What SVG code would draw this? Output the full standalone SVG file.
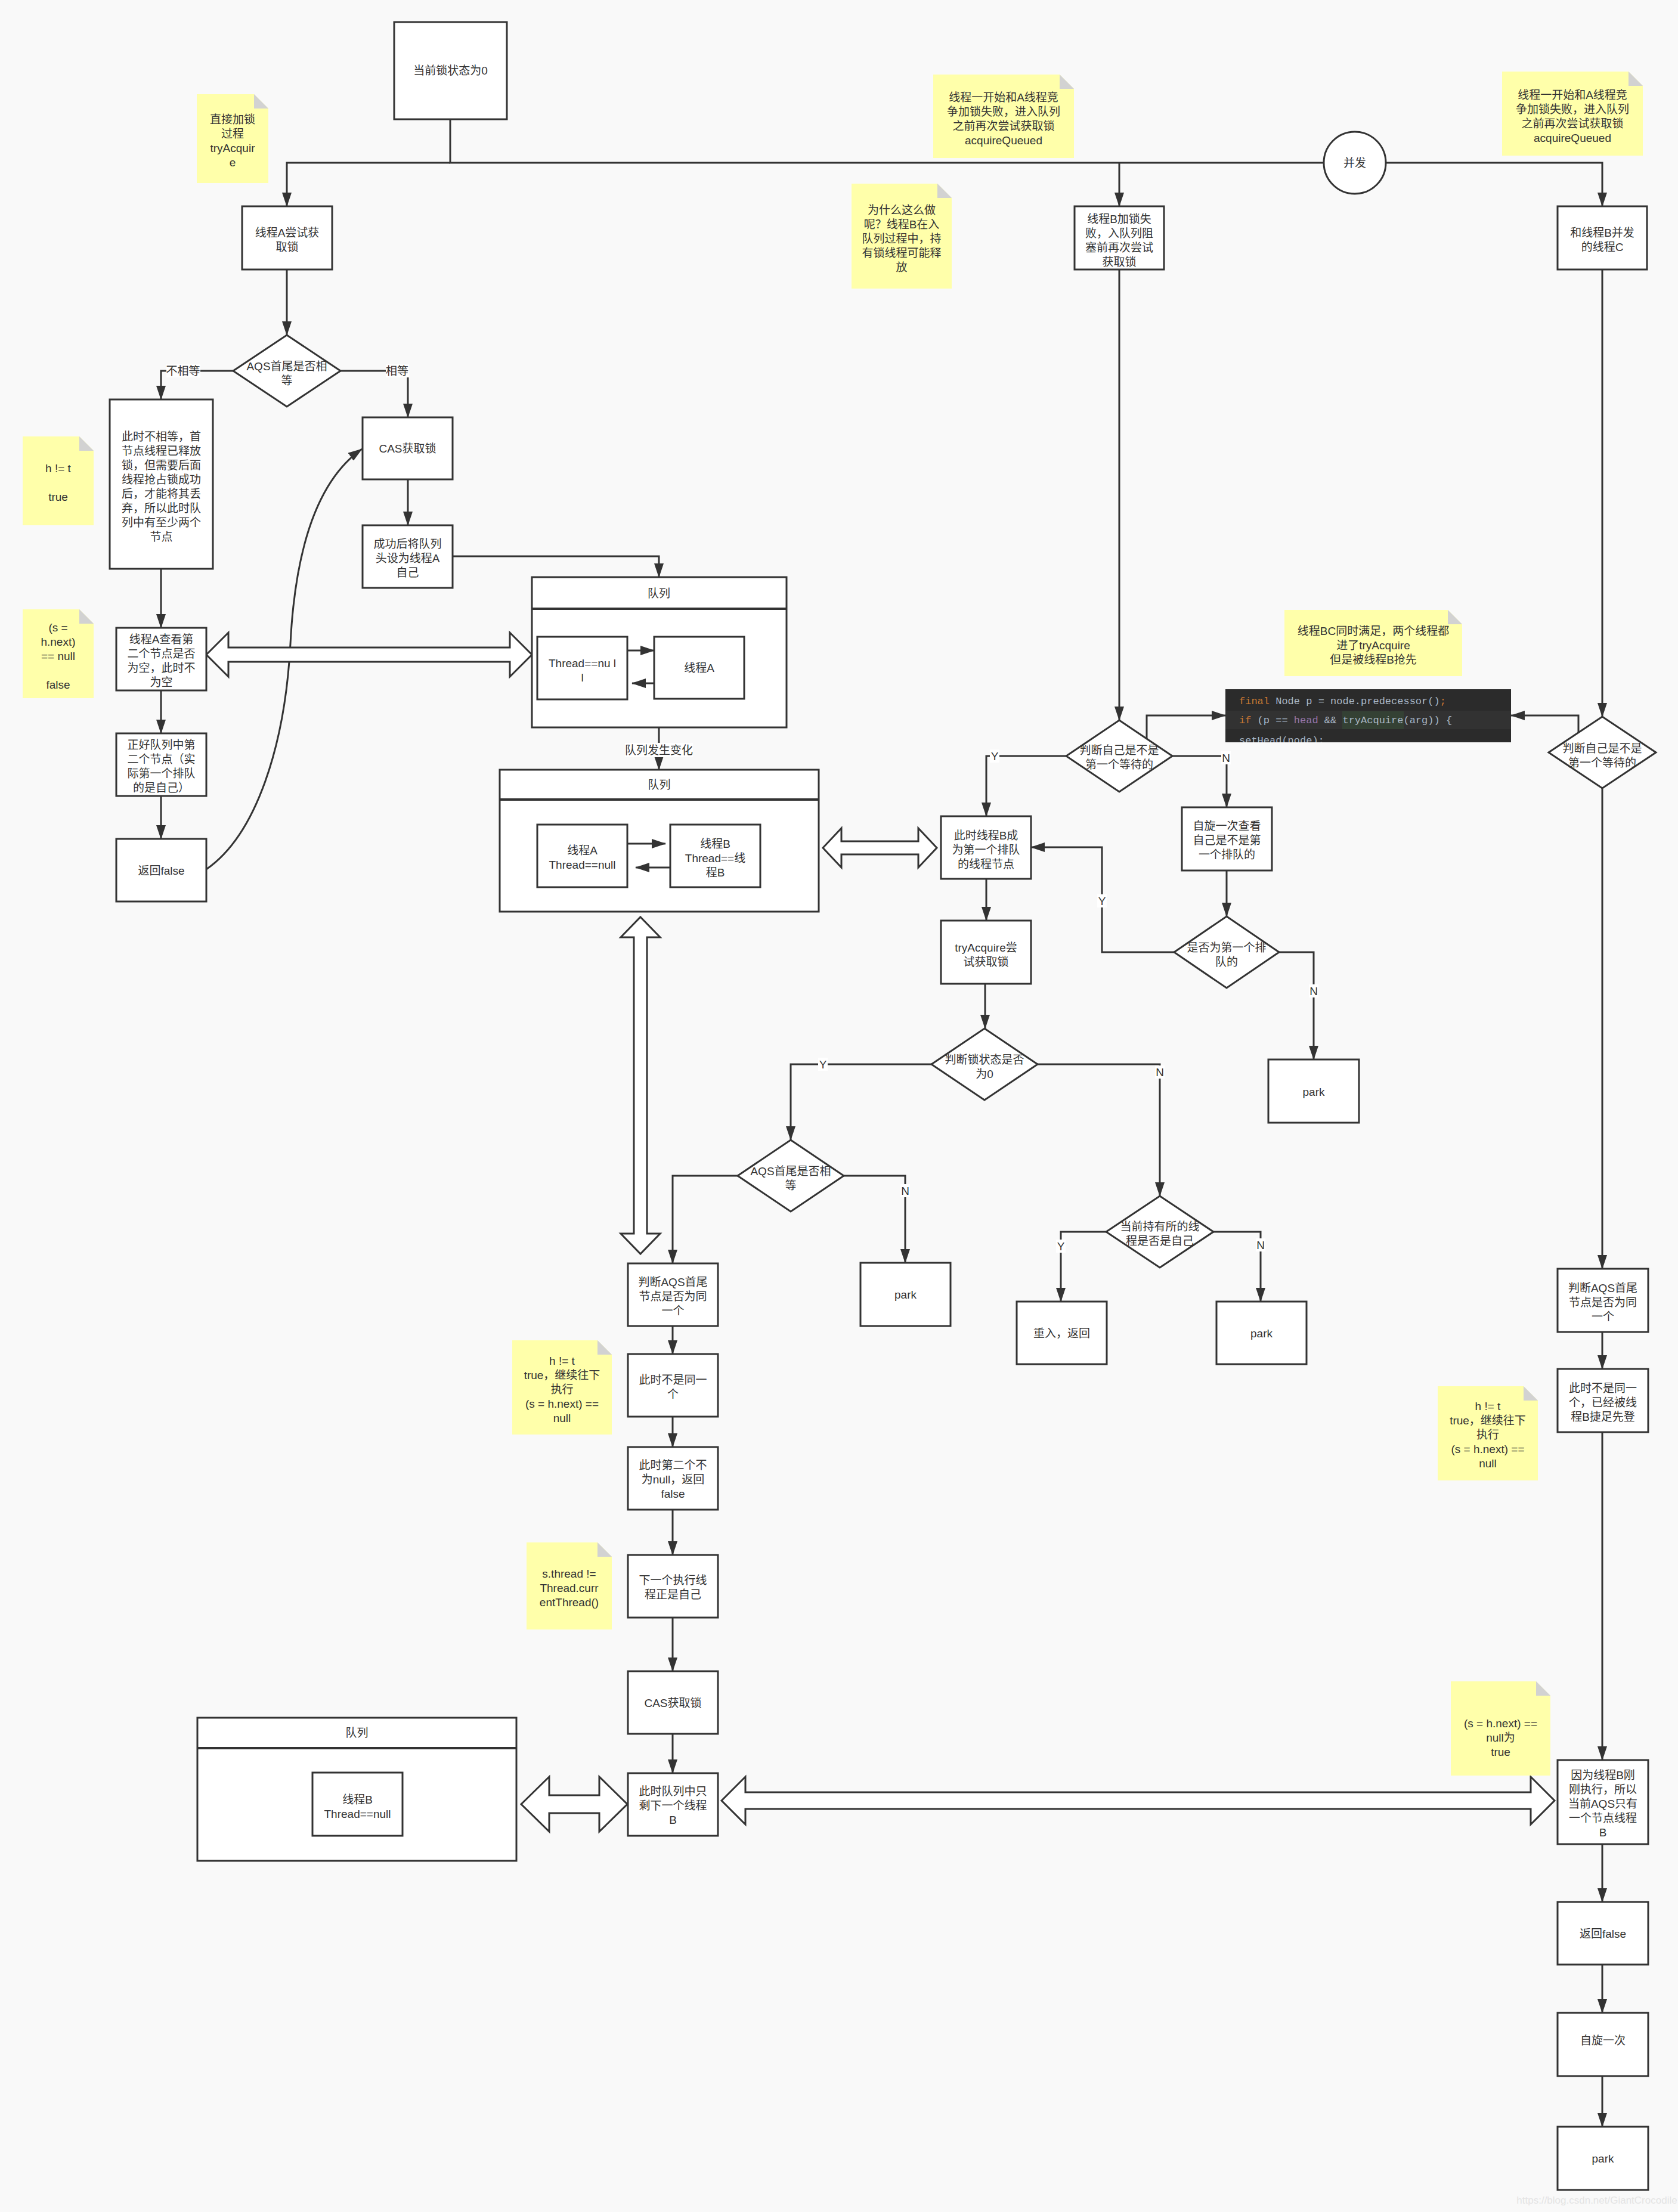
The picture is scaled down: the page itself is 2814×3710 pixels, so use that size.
<svg xmlns="http://www.w3.org/2000/svg" width="2814" height="3710" viewBox="0 0 2814 3710">
<style>
.n{fill:#fff;stroke:#333;stroke-width:3}
.t{font-family:"Liberation Sans","Noto Sans CJK SC",sans-serif;font-size:19px;fill:#333;text-anchor:middle;dominant-baseline:central}
.c{fill:none;stroke:#333;stroke-width:3}
.a{fill:none;stroke:#333;stroke-width:3;marker-end:url(#ah)}
.note{fill:#ffffaa}
.fold{fill:#d2d2d2}
.lb{fill:#fff}
.da{fill:#fff;stroke:#333;stroke-width:3;stroke-linejoin:miter}
.code{font-family:"Liberation Mono",monospace;font-size:17px;dominant-baseline:central}
</style>
<defs>
<marker id="ah" markerWidth="24" markerHeight="16" refX="23" refY="8" orient="auto" markerUnits="userSpaceOnUse"><path d="M0,0 L24,8 L0,16 Z" fill="#333"/></marker>
<clipPath id="codeclip"><rect x="2055" y="1156" width="479" height="89"/></clipPath>
</defs>
<rect x="0" y="0" width="2814" height="3710" fill="#f9f9f9"/>

<g id="connectors">
<path class="c" d="M755,200 V273 H2220"/>
<path class="a" d="M755,273 H481 V346"/>
<path class="a" d="M1877,273 V346"/>
<path class="a" d="M2324,273 H2687 V346"/>
<path class="a" d="M481,452 V562"/>
<path class="a" d="M391,622 H270 V670"/>
<path class="a" d="M571,622 H684 V700"/>
<path class="a" d="M270,954 V1053"/>
<path class="a" d="M270,1158 V1230"/>
<path class="a" d="M270,1335 V1407"/>
<path class="a" d="M346,1458 C430,1400 478,1250 487,1080 C496,900 540,800 607,753"/>
<path class="a" d="M684,804 V881"/>
<path class="a" d="M759,933 H1105 V968"/>
<path class="a" d="M1105,1220 V1291"/>
<path class="a" d="M1877,452 V1208"/>
<path class="a" d="M1923,1239 V1200 H2055"/>
<path class="a" d="M2647,1229 V1200 H2534"/>
<path class="a" d="M2687,452 V1202"/>
<path class="a" d="M1788,1268 H1654 V1369"/>
<path class="a" d="M1966,1268 H2057 V1354"/>
<path class="a" d="M1654,1474 V1544"/>
<path class="a" d="M2057,1460 V1537"/>
<path class="a" d="M1969,1597 H1848 V1421 H1729"/>
<path class="a" d="M2145,1597 H2203 V1777"/>
<path class="a" d="M1652,1650 V1725"/>
<path class="a" d="M1562,1785 H1326 V1912"/>
<path class="a" d="M1740,1785 H1945 V2006"/>
<path class="a" d="M1237,1972 H1128 V2119"/>
<path class="a" d="M1415,1972 H1518 V2118"/>
<path class="a" d="M1855,2066 H1779 V2183"/>
<path class="a" d="M2035,2066 H2114 V2183"/>
<path class="a" d="M1128,2224 V2271"/>
<path class="a" d="M1128,2376 V2427"/>
<path class="a" d="M1128,2532 V2608"/>
<path class="a" d="M1128,2713 V2803"/>
<path class="a" d="M1128,2908 V2974"/>
<path class="a" d="M2687,1322 V2128"/>
<path class="a" d="M2687,2234 V2296"/>
<path class="a" d="M2687,2402 V2952"/>
<path class="a" d="M2687,3093 V3190"/>
<path class="a" d="M2687,3295 V3376"/>
<path class="a" d="M2687,3482 V3567"/>
<polygon class="da" points="346,1098 383,1061 383,1086 855,1086 855,1061 892,1098 855,1135 855,1110 383,1110 383,1135"/>
<polygon class="da" points="1380,1422 1411,1389 1411,1411 1540,1411 1540,1389 1571,1422 1540,1455 1540,1433 1411,1433 1411,1455"/>
<polygon class="da" points="1074,1538 1107,1572 1085,1572 1085,2069 1107,2069 1074,2103 1041,2069 1063,2069 1063,1572 1041,1572"/>
<polygon class="da" points="874,3026 921,2980 921,3011 1005,3011 1005,2980 1052,3026 1005,3072 1005,3041 921,3041 921,3072"/>
<polygon class="da" points="1210,3020 1250,2980 1250,3006 2567,3006 2567,2980 2607,3020 2567,3060 2567,3034 1250,3034 1250,3060"/>
<g id="edge-labels">
<rect class="lb" x="279" y="611" width="57" height="22"/><text class="t" x="307" y="622">不相等</text>
<rect class="lb" x="647" y="611" width="39" height="22"/><text class="t" x="666" y="622">相等</text>
<rect class="lb" x="1048" y="1246" width="114" height="24"/><text class="t" x="1105" y="1258">队列发生变化</text>
<rect class="lb" x="1660" y="1257" width="16" height="22"/><text class="t" x="1668" y="1268">Y</text>
<rect class="lb" x="2048" y="1260" width="16" height="22"/><text class="t" x="2056" y="1271">N</text>
<rect class="lb" x="1840" y="1500" width="16" height="22"/><text class="t" x="1848" y="1511">Y</text>
<rect class="lb" x="2195" y="1651" width="16" height="22"/><text class="t" x="2203" y="1662">N</text>
<rect class="lb" x="1372" y="1774" width="16" height="22"/><text class="t" x="1380" y="1785">Y</text>
<rect class="lb" x="1937" y="1787" width="16" height="22"/><text class="t" x="1945" y="1798">N</text>
<rect class="lb" x="1510" y="1986" width="16" height="22"/><text class="t" x="1518" y="1997">N</text>
<rect class="lb" x="1771" y="2079" width="16" height="22"/><text class="t" x="1779" y="2090">Y</text>
<rect class="lb" x="2106" y="2077" width="16" height="22"/><text class="t" x="2114" y="2088">N</text>
</g>
</g>

<g id="start"><rect class="n" x="661" y="37" width="189" height="163"/><text class="t" x="755.5" y="118">当前锁状态为0</text></g>
<g id="concurrent"><circle class="n" cx="2272" cy="273" r="52"/><text class="t" x="2272" y="273">并发</text></g>

<g id="note-direct"><path class="note" d="M330,158 H426 L450,182 V307 H330 Z"/><path class="fold" d="M426,158 V182 H450 Z"/>
<text class="t"><tspan x="390" y="200">直接加锁</tspan><tspan x="390" y="224">过程</tspan><tspan x="390" y="248">tryAcquir</tspan><tspan x="390" y="272">e</tspan></text></g>
<g id="note-ht1"><path class="note" d="M38,732 H133 L157,756 V881 H38 Z"/><path class="fold" d="M133,732 V756 H157 Z"/>
<text class="t"><tspan x="97.5" y="785">h != t</tspan><tspan x="97.5" y="833">true</tspan></text></g>
<g id="note-snext1"><path class="note" d="M38,1022 H133 L157,1046 V1171 H38 Z"/><path class="fold" d="M133,1022 V1046 H157 Z"/>
<text class="t"><tspan x="97.5" y="1052">(s =</tspan><tspan x="97.5" y="1076">h.next)</tspan><tspan x="97.5" y="1100">== null</tspan><tspan x="97.5" y="1148">false</tspan></text></g>
<g id="note-b"><path class="note" d="M1565,125 H1777 L1801,149 V265 H1565 Z"/><path class="fold" d="M1777,125 V149 H1801 Z"/>
<text class="t"><tspan x="1683" y="163">线程一开始和A线程竞</tspan><tspan x="1683" y="187">争加锁失败，进入队列</tspan><tspan x="1683" y="211">之前再次尝试获取锁</tspan><tspan x="1683" y="235">acquireQueued</tspan></text></g>
<g id="note-c"><path class="note" d="M2519,120 H2731 L2755,144 V261 H2519 Z"/><path class="fold" d="M2731,120 V144 H2755 Z"/>
<text class="t"><tspan x="2637" y="159">线程一开始和A线程竞</tspan><tspan x="2637" y="183">争加锁失败，进入队列</tspan><tspan x="2637" y="207">之前再次尝试获取锁</tspan><tspan x="2637" y="231">acquireQueued</tspan></text></g>
<g id="note-why"><path class="note" d="M1428,308 H1572 L1596,332 V484 H1428 Z"/><path class="fold" d="M1572,308 V332 H1596 Z"/>
<text class="t"><tspan x="1512" y="352">为什么这么做</tspan><tspan x="1512" y="376">呢？线程B在入</tspan><tspan x="1512" y="400">队列过程中，持</tspan><tspan x="1512" y="424">有锁线程可能释</tspan><tspan x="1512" y="448">放</tspan></text></g>
<g id="note-bc"><path class="note" d="M2154,1023 H2428 L2452,1047 V1134 H2154 Z"/><path class="fold" d="M2428,1023 V1047 H2452 Z"/>
<text class="t"><tspan x="2303" y="1058">线程BC同时满足，两个线程都</tspan><tspan x="2303" y="1082">进了tryAcquire</tspan><tspan x="2303" y="1106">但是被线程B抢先</tspan></text></g>
<g id="note-ht2"><path class="note" d="M859,2248 H1002 L1026,2272 V2406 H859 Z"/><path class="fold" d="M1002,2248 V2272 H1026 Z"/>
<text class="t"><tspan x="942.5" y="2282">h != t</tspan><tspan x="942.5" y="2306">true，继续往下</tspan><tspan x="942.5" y="2330">执行</tspan><tspan x="942.5" y="2354">(s = h.next) ==</tspan><tspan x="942.5" y="2378">null</tspan></text></g>
<g id="note-sthread"><path class="note" d="M883,2587 H1002 L1026,2611 V2733 H883 Z"/><path class="fold" d="M1002,2587 V2611 H1026 Z"/>
<text class="t"><tspan x="954.5" y="2639">s.thread !=</tspan><tspan x="954.5" y="2663">Thread.curr</tspan><tspan x="954.5" y="2687">entThread()</tspan></text></g>
<g id="note-ht3"><path class="note" d="M2411,2325 H2555 L2579,2349 V2483 H2411 Z"/><path class="fold" d="M2555,2325 V2349 H2579 Z"/>
<text class="t"><tspan x="2495" y="2358">h != t</tspan><tspan x="2495" y="2382">true，继续往下</tspan><tspan x="2495" y="2406">执行</tspan><tspan x="2495" y="2430">(s = h.next) ==</tspan><tspan x="2495" y="2454">null</tspan></text></g>
<g id="note-snext2"><path class="note" d="M2433,2820 H2576 L2600,2844 V2978 H2433 Z"/><path class="fold" d="M2576,2820 V2844 H2600 Z"/>
<text class="t"><tspan x="2516.5" y="2890">(s = h.next) ==</tspan><tspan x="2516.5" y="2914">null为</tspan><tspan x="2516.5" y="2938">true</tspan></text></g>

<g id="threadA"><rect class="n" x="406" y="346" width="151" height="106"/><text class="t"><tspan x="481.5" y="390">线程A尝试获</tspan><tspan x="481.5" y="414">取锁</tspan></text></g>
<g id="dA"><polygon class="n" points="481,562 571,622 481,682 391,622"/><text class="t"><tspan x="481" y="614">AQS首尾是否相</tspan><tspan x="481" y="638">等</tspan></text></g>
<g id="notEqual"><rect class="n" x="184" y="670" width="173" height="284"/><text class="t"><tspan x="270.5" y="732">此时不相等，首</tspan><tspan x="270.5" y="756">节点线程已释放</tspan><tspan x="270.5" y="780">锁，但需要后面</tspan><tspan x="270.5" y="804">线程抢占锁成功</tspan><tspan x="270.5" y="828">后，才能将其丢</tspan><tspan x="270.5" y="852">弃，所以此时队</tspan><tspan x="270.5" y="876">列中有至少两个</tspan><tspan x="270.5" y="900">节点</tspan></text></g>
<g id="checkSecond"><rect class="n" x="195" y="1053" width="151" height="105"/><text class="t"><tspan x="270.5" y="1072">线程A查看第</tspan><tspan x="270.5" y="1096">二个节点是否</tspan><tspan x="270.5" y="1120">为空，此时不</tspan><tspan x="270.5" y="1144">为空</tspan></text></g>
<g id="exactly"><rect class="n" x="195" y="1230" width="151" height="105"/><text class="t"><tspan x="270.5" y="1249">正好队列中第</tspan><tspan x="270.5" y="1273">二个节点（实</tspan><tspan x="270.5" y="1297">际第一个排队</tspan><tspan x="270.5" y="1321">的是自己）</tspan></text></g>
<g id="retFalse1"><rect class="n" x="195" y="1407" width="151" height="105"/><text class="t" x="270.5" y="1460">返回false</text></g>
<g id="cas1"><rect class="n" x="608" y="700" width="151" height="104"/><text class="t" x="683.5" y="752">CAS获取锁</text></g>
<g id="success"><rect class="n" x="608" y="881" width="151" height="105"/><text class="t"><tspan x="683.5" y="912">成功后将队列</tspan><tspan x="683.5" y="936">头设为线程A</tspan><tspan x="683.5" y="960">自己</tspan></text></g>

<g id="queue1"><rect class="n" x="892" y="968" width="427" height="252"/><line x1="892" y1="1021" x2="1319" y2="1021" stroke="#333" stroke-width="4"/><text class="t" x="1105" y="995">队列</text>
<rect class="n" x="901" y="1068" width="151" height="105"/><text class="t"><tspan x="976.5" y="1112">Thread==nu l</tspan><tspan x="976.5" y="1136">l</tspan></text>
<rect class="n" x="1097" y="1068" width="151" height="104"/><text class="t" x="1172.5" y="1120">线程A</text>
<path class="a" d="M1052,1091 H1097"/>
<path class="a" d="M1097,1146 H1060"/></g>

<g id="queue2"><rect class="n" x="838" y="1291" width="535" height="238"/><line x1="838" y1="1341" x2="1373" y2="1341" stroke="#333" stroke-width="4"/><text class="t" x="1105.5" y="1316">队列</text>
<rect class="n" x="901" y="1383" width="151" height="105"/><text class="t"><tspan x="976.5" y="1426">线程A</tspan><tspan x="976.5" y="1450">Thread==null</tspan></text>
<rect class="n" x="1124" y="1383" width="151" height="105"/><text class="t"><tspan x="1199.5" y="1415">线程B</tspan><tspan x="1199.5" y="1439">Thread==线</tspan><tspan x="1199.5" y="1463">程B</tspan></text>
<path class="a" d="M1052,1415 H1116"/>
<path class="a" d="M1124,1455 H1066"/></g>

<g id="threadB"><rect class="n" x="1802" y="346" width="150" height="106"/><text class="t"><tspan x="1877" y="367">线程B加锁失</tspan><tspan x="1877" y="391">败，入队列阻</tspan><tspan x="1877" y="415">塞前再次尝试</tspan><tspan x="1877" y="439">获取锁</tspan></text></g>
<g id="threadC"><rect class="n" x="2612" y="346" width="150" height="106"/><text class="t"><tspan x="2687" y="390">和线程B并发</tspan><tspan x="2687" y="414">的线程C</tspan></text></g>

<g id="code">
<rect x="2055" y="1156" width="479" height="89" fill="#2b2b2b"/>
<rect x="2055" y="1192" width="479" height="31" fill="#323232"/>
<rect x="2251" y="1193" width="103" height="30" fill="#344134"/>
<g clip-path="url(#codeclip)">
<text class="code" x="2078" y="1176"><tspan fill="#cc7832">final</tspan><tspan fill="#a9b7c6"> Node p = node.predecessor()</tspan><tspan fill="#cc7832">;</tspan></text>
<text class="code" x="2078" y="1208"><tspan fill="#cc7832">if</tspan><tspan fill="#a9b7c6"> (p == </tspan><tspan fill="#9876aa">head</tspan><tspan fill="#a9b7c6"> &amp;&amp; tryAcquire(arg)) {</tspan></text>
<text class="code" x="2078" y="1242" fill="#a9b7c6">    setHead(node);</text>
</g>
</g>

<g id="dB1"><polygon class="n" points="1877,1208 1966,1268 1877,1328 1788,1268"/><text class="t"><tspan x="1877" y="1258">判断自己是不是</tspan><tspan x="1877" y="1282">第一个等待的</tspan></text></g>
<g id="dC1"><polygon class="n" points="2687,1202 2777,1262 2687,1322 2597,1262"/><text class="t"><tspan x="2687" y="1255">判断自己是不是</tspan><tspan x="2687" y="1279">第一个等待的</tspan></text></g>
<g id="bFirst"><rect class="n" x="1578" y="1369" width="151" height="105"/><text class="t"><tspan x="1653.5" y="1401">此时线程B成</tspan><tspan x="1653.5" y="1425">为第一个排队</tspan><tspan x="1653.5" y="1449">的线程节点</tspan></text></g>
<g id="spin1"><rect class="n" x="1982" y="1354" width="151" height="106"/><text class="t"><tspan x="2057.5" y="1385">自旋一次查看</tspan><tspan x="2057.5" y="1409">自己是不是第</tspan><tspan x="2057.5" y="1433">一个排队的</tspan></text></g>
<g id="tryAcq"><rect class="n" x="1578" y="1544" width="151" height="106"/><text class="t"><tspan x="1653.5" y="1589">tryAcquire尝</tspan><tspan x="1653.5" y="1613">试获取锁</tspan></text></g>
<g id="dFirst"><polygon class="n" points="2057,1537 2145,1597 2057,1657 1969,1597"/><text class="t"><tspan x="2057" y="1589">是否为第一个排</tspan><tspan x="2057" y="1613">队的</tspan></text></g>
<g id="park1"><rect class="n" x="2127" y="1777" width="152" height="106"/><text class="t" x="2203" y="1831">park</text></g>
<g id="dState"><polygon class="n" points="1651,1725 1740,1785 1651,1845 1562,1785"/><text class="t"><tspan x="1651" y="1777">判断锁状态是否</tspan><tspan x="1651" y="1801">为0</tspan></text></g>
<g id="dAQS2"><polygon class="n" points="1326,1912 1415,1972 1326,2032 1237,1972"/><text class="t"><tspan x="1326" y="1964">AQS首尾是否相</tspan><tspan x="1326" y="1988">等</tspan></text></g>
<g id="dOwner"><polygon class="n" points="1945,2006 2035,2066 1945,2126 1855,2066"/><text class="t"><tspan x="1945" y="2057">当前持有所的线</tspan><tspan x="1945" y="2081">程是否是自己</tspan></text></g>
<g id="park2"><rect class="n" x="1443" y="2118" width="151" height="106"/><text class="t" x="1518.5" y="2171">park</text></g>
<g id="reentry"><rect class="n" x="1705" y="2183" width="151" height="105"/><text class="t" x="1780.5" y="2236">重入，返回</text></g>
<g id="park3"><rect class="n" x="2040" y="2183" width="151" height="105"/><text class="t" x="2115.5" y="2236">park</text></g>

<g id="judgeMid"><rect class="n" x="1053" y="2119" width="151" height="105"/><text class="t"><tspan x="1128.5" y="2150">判断AQS首尾</tspan><tspan x="1128.5" y="2174">节点是否为同</tspan><tspan x="1128.5" y="2198">一个</tspan></text></g>
<g id="notSameMid"><rect class="n" x="1053" y="2271" width="151" height="105"/><text class="t"><tspan x="1128.5" y="2314">此时不是同一</tspan><tspan x="1128.5" y="2338">个</tspan></text></g>
<g id="secondNotNull"><rect class="n" x="1053" y="2427" width="151" height="105"/><text class="t"><tspan x="1128.5" y="2457">此时第二个不</tspan><tspan x="1128.5" y="2481">为null，返回</tspan><tspan x="1128.5" y="2505">false</tspan></text></g>
<g id="nextSelf"><rect class="n" x="1053" y="2608" width="151" height="105"/><text class="t"><tspan x="1128.5" y="2650">下一个执行线</tspan><tspan x="1128.5" y="2674">程正是自己</tspan></text></g>
<g id="cas2"><rect class="n" x="1053" y="2803" width="151" height="105"/><text class="t" x="1128.5" y="2856">CAS获取锁</text></g>
<g id="onlyB"><rect class="n" x="1053" y="2974" width="151" height="105"/><text class="t"><tspan x="1128.5" y="3004">此时队列中只</tspan><tspan x="1128.5" y="3028">剩下一个线程</tspan><tspan x="1128.5" y="3052">B</tspan></text></g>

<g id="queue3"><rect class="n" x="331" y="2881" width="535" height="240"/><line x1="331" y1="2932" x2="866" y2="2932" stroke="#333" stroke-width="4"/><text class="t" x="598.5" y="2906">队列</text>
<rect class="n" x="524" y="2973" width="151" height="106"/><text class="t"><tspan x="599.5" y="3018">线程B</tspan><tspan x="599.5" y="3042">Thread==null</tspan></text></g>

<g id="judgeRight"><rect class="n" x="2612" y="2128" width="152" height="106"/><text class="t"><tspan x="2688" y="2160">判断AQS首尾</tspan><tspan x="2688" y="2184">节点是否为同</tspan><tspan x="2688" y="2208">一个</tspan></text></g>
<g id="notSameRight"><rect class="n" x="2612" y="2296" width="152" height="106"/><text class="t"><tspan x="2688" y="2328">此时不是同一</tspan><tspan x="2688" y="2352">个，已经被线</tspan><tspan x="2688" y="2376">程B捷足先登</tspan></text></g>
<g id="becauseB"><rect class="n" x="2612" y="2952" width="152" height="141"/><text class="t"><tspan x="2688" y="2977">因为线程B刚</tspan><tspan x="2688" y="3001">刚执行，所以</tspan><tspan x="2688" y="3025">当前AQS只有</tspan><tspan x="2688" y="3049">一个节点线程</tspan><tspan x="2688" y="3073">B</tspan></text></g>
<g id="retFalse2"><rect class="n" x="2612" y="3190" width="152" height="105"/><text class="t" x="2688" y="3243">返回false</text></g>
<g id="spin2"><rect class="n" x="2612" y="3376" width="152" height="106"/><text class="t" x="2688" y="3422">自旋一次</text></g>
<g id="park4"><rect class="n" x="2612" y="3567" width="152" height="106"/><text class="t" x="2688" y="3620">park</text></g>

<text x="2678" y="3690" font-family="Liberation Sans, sans-serif" font-size="17" fill="#e4e4e4" text-anchor="middle" dominant-baseline="central">https://blog.csdn.net/GiantCrocodile</text>
</svg>
